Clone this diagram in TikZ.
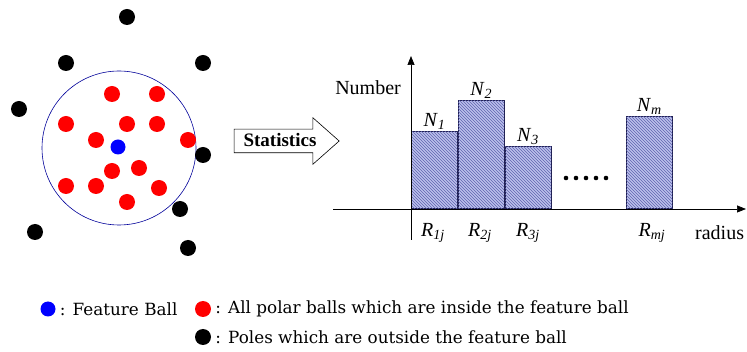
\documentclass[tikz,border=0pt]{standalone}
\usepackage{fontspec}
\setmainfont{Liberation Serif}
\newfontfamily\legendfont{DejaVu Serif}
\usetikzlibrary{arrows.meta,positioning,shapes.arrows,patterns}

\definecolor{barfill}{RGB}{188,192,236}
\definecolor{barhatch}{RGB}{95,100,175}
\definecolor{baredge}{RGB}{30,30,80}

\newcommand{\lab}[2]{\textit{#1}\textsubscript{\textit{#2}}}

\begin{document}
\begin{tikzpicture}[
  x=1pt,y=-1pt,
  ball/.style={circle,inner sep=0pt,minimum size=16pt},
  bar/.style={draw=baredge,line width=.8pt,anchor=south west,minimum width=46pt,inner sep=0pt,
    fill=barfill,postaction={pattern=north west lines,pattern color=barhatch}},
  lbl/.style={font=\fontsize{20}{23}\selectfont,inner sep=0pt},
  legend/.style={font=\legendfont\fontsize{16.8}{20}\selectfont,anchor=west,inner sep=0pt}
]
\useasboundingbox (0,0) rectangle (747,352);

% feature ball and the poles round it
\node[circle,draw=blue!60!black,line width=.6pt,minimum size=154pt,inner sep=0pt] (fball) at (119,148) {};
\foreach \x/\y [count=\i] in {112/94,157/94,66/124,127/124,157/124,188/140,96/140,
    112/171,139/168,66/186,96/186,159/188,127/202}
  \node[ball,fill=red] (in\i) at (\x,\y) {};
\foreach \x/\y [count=\i] in {127/17,66/63,203/63,19/109,203/155,180/209,35/232,188/248}
  \node[ball,fill=black] (out\i) at (\x,\y) {};
\node[ball,fill=blue,minimum size=15pt] (center) at (118,147) {};

% statistics arrow
\node[single arrow,draw,line width=.6pt,minimum height=105pt,single arrow head extend=11.5pt,
  single arrow tip angle=83,text height=13pt,text depth=1pt,inner xsep=5pt,inner ysep=4.5pt,
  font=\bfseries\fontsize{19}{22}\selectfont] (stat) at (280,141) {Statistics};

% histogram
\coordinate (xs) at (333,209);
\coordinate (xe) at (746,209);
\coordinate (ys) at (411,240);
\coordinate (ye) at (411,56);
\node[bar,minimum height=77pt] (b1) at (411,209) {};
\node[bar,minimum height=108pt] (b2) at (b1.south east) {};
\node[bar,minimum height=62pt] (b3) at (b2.south east) {};
\node[bar,minimum height=92pt] (bm) at (626,209) {};
\draw[line width=.7pt,-{Triangle[length=9pt,width=7pt]}] (xs) -- (xe);
\draw[line width=.7pt,-{Triangle[length=9pt,width=7pt]}] (ys) -- (ye);

\node[lbl,above=1pt of b1] (n1) {\lab{N}{1}};
\node[lbl,above=1pt of b2] (n2) {\lab{N}{2}};
\node[lbl,above=1pt of b3] (n3) {\lab{N}{3}};
\node[lbl,above=1pt of bm] (nm) {\lab{N}{m}};
\node[lbl] (r1) at (433,233) {\lab{R}{1j}};
\node[lbl] (r2) at (480,233) {\lab{R}{2j}};
\node[lbl] (r3) at (528,233) {\lab{R}{3j}};
\node[lbl] (rm) at (652,233) {\lab{R}{mj}};
\node[lbl,anchor=east] (ylab) at (401,88) {Number};
\node[lbl,anchor=west] (xlab) at (695,233) {radius};
\foreach \x in {0,...,4}
  \fill (566+10*\x,178) circle (2.3);

% legend
\node[ball,fill=blue,minimum size=15pt] (kblue) at (48,309) {};
\node[legend,right=4pt of kblue] (tblue) {: Feature Ball};
\node[ball,fill=red] (kred) at (203,309) {};
\node[legend,right=4pt of kred] (tred) {: All polar balls which are inside the feature ball};
\node[ball,fill=black] (kblack) at (203,337) {};
\node[legend,right=4pt of kblack] (tblack) {: Poles which are outside the feature ball};
\end{tikzpicture}
\end{document}
